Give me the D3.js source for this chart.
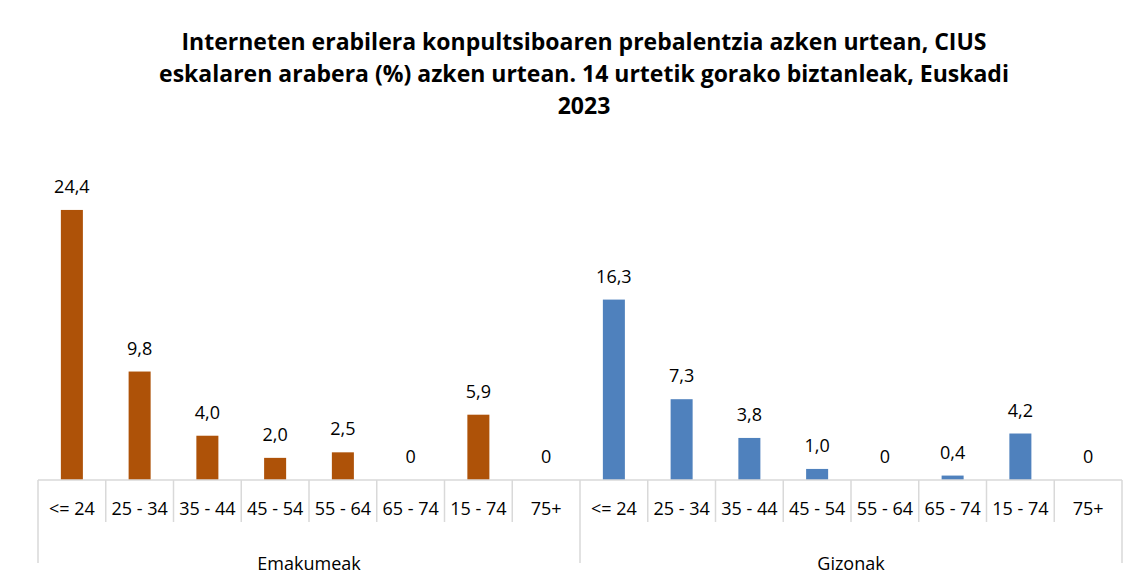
<!DOCTYPE html>
<html>
<head>
<meta charset="utf-8">
<script src="https://cdn.jsdelivr.net/npm/d3@7"></script>
<style>
  body { margin: 0; background: #fff; }
  text { font-family: "Open Sans", "Noto Sans", sans-serif; fill: #000; }
</style>
</head>
<body>
<svg id="chart" width="1140" height="583"></svg>
<script>
var groups = ["Emakumeak", "Gizonak"];
var ageLabels = ["<= 24", "25 - 34", "35 - 44", "45 - 54", "55 - 64", "65 - 74", "15 - 74", "75+"];
var emakumeak = [24.4, 9.8, 4.0, 2.0, 2.5, 0, 5.9, 0];
var gizonak = [16.3, 7.3, 3.8, 1.0, 0, 0.4, 4.2, 0];
var titleLines = [
  "Interneten erabilera konpultsiboaren prebalentzia azken urtean, CIUS",
  "eskalaren arabera (%) azken urtean. 14 urtetik gorako biztanleak, Euskadi",
  "2023"
];
var colors = ["#AE5208", "#4F81BD"];

// build rows from the arrays
var rows = [];
[emakumeak, gizonak].forEach(function(series, g) {
  series.forEach(function(v, i) {
    rows.push({ group: g, age: ageLabels[i], key: g + "|" + i, value: v });
  });
});

var svg = d3.select("#chart");
var left = 38, right = 1122, base = 480;

var x = d3.scaleBand()
  .domain(rows.map(function(d) { return d.key; }))
  .range([left, right])
  .paddingInner(0.675)
  .paddingOuter(0.3375);

var slot = (right - left) / rows.length;

var y = d3.scaleLinear()
  .domain([0, 25])
  .range([base, 203.3]);

// title
var title = svg.append("text")
  .attr("text-anchor", "middle")
  .style("font-weight", "bold")
  .style("font-size", "23px");
titleLines.forEach(function(t, i) {
  title.append("tspan")
    .attr("x", 584)
    .attr("y", 50 + i * 32)
    .text(t);
});

// bars
svg.append("g").selectAll("rect")
  .data(rows)
  .enter().append("rect")
    .attr("x", function(d) { return x(d.key); })
    .attr("width", x.bandwidth())
    .attr("y", function(d) { return y(d.value); })
    .attr("height", function(d) { return base - y(d.value); })
    .attr("fill", function(d) { return colors[d.group]; });

// value labels
svg.append("g").selectAll("text")
  .data(rows)
  .enter().append("text")
    .attr("x", function(d) { return x(d.key) + x.bandwidth() / 2; })
    .attr("y", function(d) { return y(d.value) - 17; })
    .attr("text-anchor", "middle")
    .style("font-size", "18px")
    .text(function(d) { return d.value === 0 ? "0" : d3.format(".1f")(d.value).replace(".", ","); });

// axis line and separators
var axis = svg.append("g").attr("stroke", "#d9d9d9").attr("stroke-width", 1.5);
axis.append("line")
  .attr("x1", left).attr("x2", right)
  .attr("y1", base).attr("y2", base);

d3.range(rows.length + 1).forEach(function(i) {
  var isGroup = i % ageLabels.length === 0;
  axis.append("line")
    .attr("x1", left + i * slot).attr("x2", left + i * slot)
    .attr("y1", base).attr("y2", isGroup ? 563 : 522);
});

// category labels
svg.append("g").selectAll("text")
  .data(rows)
  .enter().append("text")
    .attr("x", function(d) { return x(d.key) + x.bandwidth() / 2; })
    .attr("y", 515)
    .attr("text-anchor", "middle")
    .style("font-size", "18px")
    .text(function(d) { return d.age; });

// group labels
svg.append("g").selectAll("text")
  .data(groups)
  .enter().append("text")
    .attr("x", function(d, g) { return left + (g + 0.5) * slot * ageLabels.length; })
    .attr("y", 570)
    .attr("text-anchor", "middle")
    .style("font-size", "18px")
    .text(function(d) { return d; });
</script>
</body>
</html>
